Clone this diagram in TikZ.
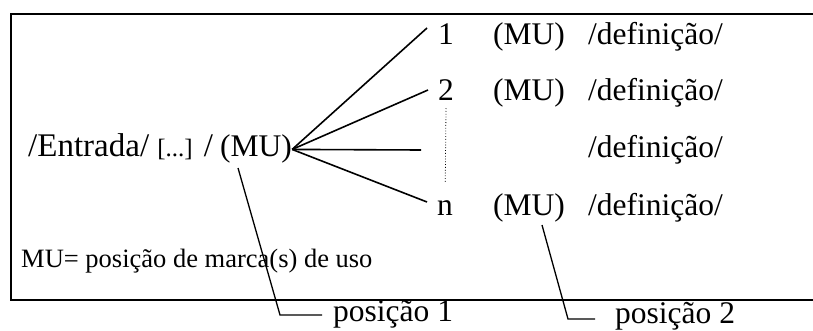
\documentclass[tikz,border=0pt]{standalone}
\usepackage{fontspec}
\setmainfont{Liberation Serif}
\usetikzlibrary{positioning}

\begin{document}
\begin{tikzpicture}[
    x=1pt, y=-1pt,
    txt/.style={inner sep=0pt, anchor=base west, font=\fontsize{31.5}{36}\selectfont},
    big/.style={txt, font=\fontsize{33}{38}\selectfont},
    note/.style={txt, font=\fontsize{26.5}{30}\selectfont},
    frame/.style={line width=2pt},
    fan/.style={line width=1.6pt},
    lead/.style={line width=1.3pt}
]
    \clip (0,0) rectangle (813,331);
    \draw[frame] (11,14) rectangle (830,300);

    % entrada
    \node[big] (entry) at (28,157) {/Entrada/ {\fontsize{25}{28}\selectfont[...]} /};
    \node[txt] (mu1) at (220,157) {(MU)};

    % acepcoes
    \node[txt] (n1) at (438,45) {1};
    \node[txt] (n2) at (438,101) {2};
    \node[txt] (nn) at (437,215) {n};
    \node[txt] (mua) at (493,45) {(MU)};
    \node[txt] (mub) at (493,101) {(MU)};
    \node[txt] (mun) at (493,215) {(MU)};
    \node[txt] (def1) at (588,45) {/definição/};
    \node[txt] (def2) at (588,101) {/definição/};
    \node[txt] (def3) at (588,158) {/definição/};
    \node[txt] (defn) at (588,215) {/definição/};

    \node[note] (legend) at (21,267) {MU= posição de marca(s) de uso};
    \node[txt] (pos1) at (333,321) {posição 1};
    \node[txt] (pos2) at (615,323) {posição 2};

    % pontas dos ramos
    \coordinate (e1) at (427,28);
    \coordinate (e2) at (428,90);
    \coordinate (e3) at (421,150);
    \coordinate (en) at (427,202);

    \draw[fan] (mu1.east) -- (e1);
    \draw[fan] (mu1.east) -- (e2);
    \draw[fan] (mu1.east) -- (e3);
    \draw[fan] (mu1.east) -- (en);
    \draw[dotted, line width=0.8pt, shorten <=7pt, shorten >=18pt] (n2.south) -- (nn.north);

    % linhas de chamada
    \coordinate (l1) at (238,168);
    \coordinate (b1) at (280,315);
    \coordinate (l2) at (542,225);
    \coordinate (b2) at (568,319);
    \draw[lead, shorten >=11pt] (l1) -- (b1) -- (b1 -| pos1.west);
    \draw[lead, shorten >=20pt] (l2) -- (b2) -- (b2 -| pos2.west);
\end{tikzpicture}
\end{document}
